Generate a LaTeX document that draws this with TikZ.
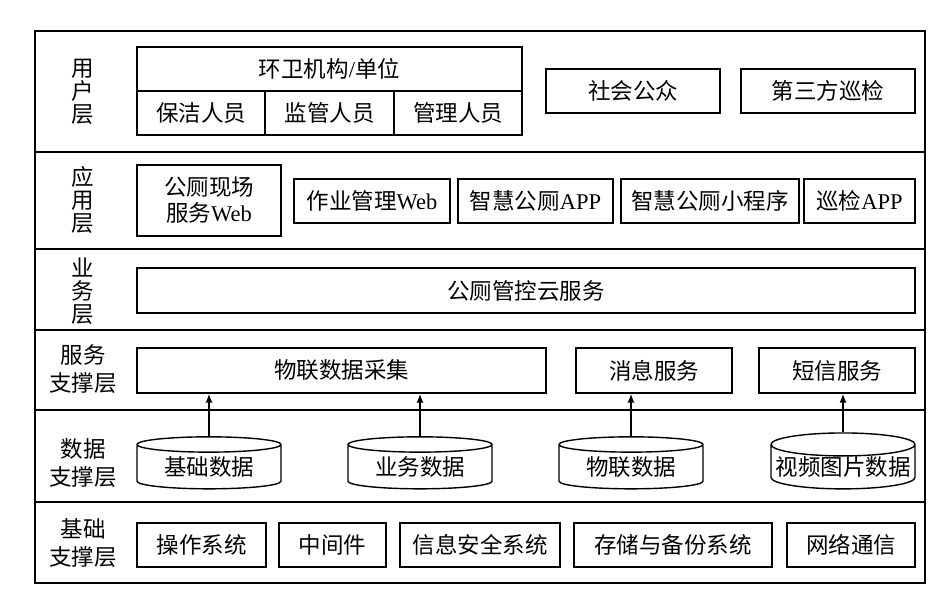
\documentclass[tikz,border=0pt]{standalone}
\usepackage{fontspec}
\setmainfont{Liberation Serif}
\newfontfamily\cjk{Noto Sans CJK SC}
\usetikzlibrary{shapes.geometric,arrows.meta}

\tikzset{
  box/.style={draw, line width=1.4pt, inner sep=0pt, minimum height=44,
    font=\cjk\fontsize{22.5}{26}\selectfont, align=center},
  db/.style={draw, line width=1.4pt, cylinder, shape border rotate=90,
    aspect=0.17, inner sep=0pt, minimum width=144, minimum height=52,
    font=\cjk\fontsize{22.5}{26}\selectfont},
  layername/.style={font=\cjk\fontsize{22.5}{23}\selectfont, align=center},
  feed/.style={line width=1.4pt, -{Latex[length=9pt,width=7pt]}}
}

\begin{document}
\begin{tikzpicture}[x=1pt, y=-1pt]
\useasboundingbox (0,0) rectangle (946,600);

% Frame and layer lines
\draw [line width=1.6pt] (35,31) rectangle (925,583);
\foreach \yy in {152,249,330,410,502}
  \draw [line width=1.6pt] (35,\yy) -- (925,\yy);

% Layer names
\node [layername] (Luser) at (83,92) {用\\户\\层};
\node [layername] (Lapp) at (83,200) {应\\用\\层};
\node [layername] (Lbiz) at (83,291) {业\\务\\层};
\node [layername, font=\cjk\fontsize{22.5}{28}\selectfont] (Lsvc) at (83,369) {服务\\支撑层};
\node [layername, font=\cjk\fontsize{22.5}{28}\selectfont] (Ldata) at (83,463) {数据\\支撑层};
\node [layername, font=\cjk\fontsize{22.5}{28}\selectfont] (Lbase) at (83,543) {基础\\支撑层};

% User layer
\node [box, minimum width=385] (org) at (329.5,69) {环卫机构\textrm{/}单位};
\node [box, minimum width=128] (cleaner) at (201,113) {保洁人员};
\node [box, minimum width=129] (supervisor) at (329.5,113) {监管人员};
\node [box, minimum width=128] (manager) at (458,113) {管理人员};
\node [box, minimum width=174] (public) at (633,91) {社会公众};
\node [box, minimum width=174] (patrol) at (828,91) {第三方巡检};

% Application layer
\node [box, minimum width=144, minimum height=71] (siteweb) at (209,200.5) {公厕现场\\服务\textrm{Web}};
\node [box, minimum width=156] (workweb) at (372,201) {作业管理\textrm{Web}};
\node [box, minimum width=155] (app) at (535.5,201) {智慧公厕\textrm{APP}};
\node [box, minimum width=178] (miniprog) at (710,201) {智慧公厕小程序};
\node [box, minimum width=111] (patrolapp) at (859.5,201) {巡检\textrm{APP}};

% Business layer
\node [box, minimum width=778, minimum height=45] (cloud) at (526,290.5) {公厕管控云服务};

% Service support layer
\node [box, minimum width=409, minimum height=45] (iot) at (341.5,370.5) {物联数据采集};
\node [box, minimum width=156, minimum height=45] (msg) at (654,370.5) {消息服务};
\node [box, minimum width=156, minimum height=45] (sms) at (837,370.5) {短信服务};

% Data support layer
\node [db] (basedb) at (209,467) {基础数据};
\node [db] (bizdb) at (420,467) {业务数据};
\node [db] (iotdb) at (631,467) {物联数据};
\node [db] (mediadb) at (843,467) {视频图片数据};

\draw [feed] (basedb.north) -- (basedb.north |- iot.south);
\draw [feed] (bizdb.north) -- (bizdb.north |- iot.south);
\draw [feed] (iotdb.north) -- (iotdb.north |- msg.south);
\draw [feed] (mediadb.north) -- (mediadb.north |- sms.south);

% Base support layer
\node [box, minimum width=129] (os) at (201.5,545) {操作系统};
\node [box, minimum width=107] (mw) at (332.5,545) {中间件};
\node [box, minimum width=160] (sec) at (480,545) {信息安全系统};
\node [box, minimum width=198] (store) at (673,545) {存储与备份系统};
\node [box, minimum width=128] (net) at (851,545) {网络通信};
\end{tikzpicture}
\end{document}
